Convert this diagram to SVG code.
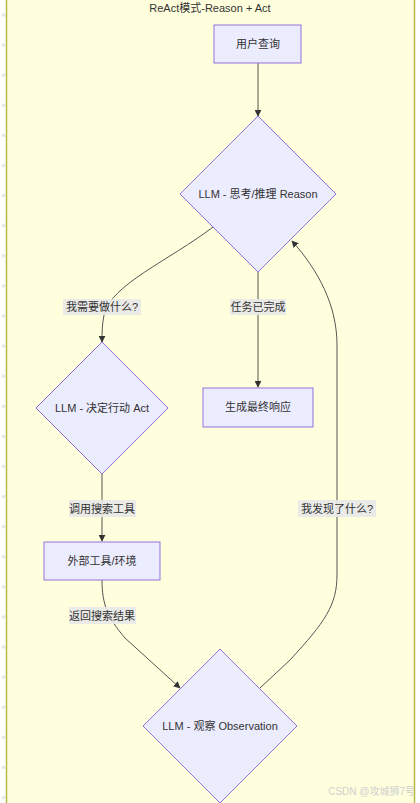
<svg xmlns="http://www.w3.org/2000/svg" width="420" height="803" viewBox="0 0 420 803">
<style>
  text { font-family: "Liberation Sans", "Noto Sans CJK SC", sans-serif; font-size: 11px; fill: #333333; }
  .node { fill: #ECECFF; stroke: #9370DB; stroke-width: 1; }
  .edge { fill: none; stroke: #555555; stroke-width: 1; }
  .lblbg { fill: #e8e8e8; opacity: 0.9; }
</style>
<defs>
  <marker id="arrow" viewBox="0 0 10 10" refX="9" refY="5" markerWidth="7" markerHeight="7" orient="auto-start-reverse" markerUnits="userSpaceOnUse">
    <path d="M0,0 L10,5 L0,10 z" fill="#333333"/>
  </marker>
  <pattern id="dots" x="0" y="0" width="8" height="30.1" patternUnits="userSpaceOnUse" patternTransform="translate(0,0)">
    <circle cx="3.5" cy="15" r="1.8" fill="#e6e6e6"/>
  </pattern>
</defs>
<rect x="0" y="0" width="420" height="803" fill="#ffffff"/>
<rect x="0" y="0" width="6" height="803" fill="url(#dots)"/>
<g id="cluster">
  <rect x="6.5" y="-2" width="408" height="810" fill="#ffffde" stroke="#b8b84a" stroke-width="1.5"/>
  <text x="210" y="12" text-anchor="middle">ReAct模式-Reason + Act</text>
</g>
<g id="connectors">
  <path class="edge" d="M258,63 L258,116" marker-end="url(#arrow)"/>
  <path class="edge" d="M213,227 C170,260 110,285 104,315 C102,325 102,333 102,342" marker-end="url(#arrow)"/>
  <path class="edge" d="M258,272 L258,387" marker-end="url(#arrow)"/>
  <path class="edge" d="M102,474 L102,541" marker-end="url(#arrow)"/>
  <path class="edge" d="M102,580 C102,605 108,618 125,638 L180,688" marker-end="url(#arrow)"/>
  <path class="edge" d="M260,688 L290,660 C325,622 337,605 337,575 L337,345 C337,305 318,270 292,241" marker-end="url(#arrow)"/>
  <g id="edge-labels">
    <rect class="lblbg" x="63" y="299" width="78" height="16"/>
    <text x="102" y="311" text-anchor="middle">我需要做什么?</text>
    <rect class="lblbg" x="230" y="299" width="56" height="16"/>
    <text x="258" y="311" text-anchor="middle">任务已完成</text>
    <rect class="lblbg" x="69" y="500" width="67" height="17"/>
    <text x="102" y="513" text-anchor="middle">调用搜索工具</text>
    <rect class="lblbg" x="69" y="607" width="67" height="17"/>
    <text x="102" y="620" text-anchor="middle">返回搜索结果</text>
    <rect class="lblbg" x="298" y="500" width="78" height="17"/>
    <text x="337" y="513" text-anchor="middle">我发现了什么?</text>
  </g>
</g>
<g id="n-query">
  <rect class="node" x="214" y="25" width="87" height="38"/>
  <text x="258" y="48" text-anchor="middle">用户查询</text>
</g>
<g id="n-reason">
  <polygon class="node" points="258,116 336,194 258,272 180,194"/>
  <text x="258" y="198" text-anchor="middle">LLM - 思考/推理 Reason</text>
</g>
<g id="n-act">
  <polygon class="node" points="102,342 168,408 102,474 36,408"/>
  <text x="102" y="412" text-anchor="middle">LLM - 决定行动 Act</text>
</g>
<g id="n-final">
  <rect class="node" x="203" y="388" width="110" height="39"/>
  <text x="258" y="411" text-anchor="middle">生成最终响应</text>
</g>
<g id="n-tool">
  <rect class="node" x="44" y="542" width="116" height="38"/>
  <text x="102" y="565" text-anchor="middle">外部工具/环境</text>
</g>
<g id="n-observe">
  <polygon class="node" points="220,649 297,726 220,803 143,726"/>
  <text x="220" y="730" text-anchor="middle">LLM - 观察 Observation</text>
</g>
<text x="415" y="795" text-anchor="end" style="font-size:10px; fill:#cfcfcf;">CSDN @攻城狮7号</text>
</svg>
